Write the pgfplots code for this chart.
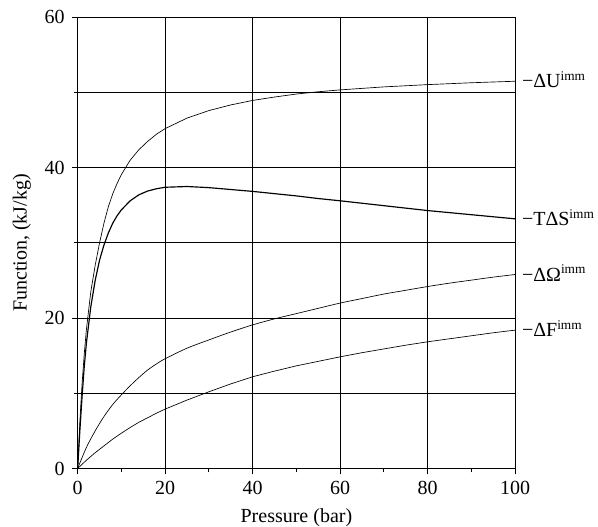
\documentclass[border=0pt]{standalone}
\usepackage{fontspec}
\setmainfont{Liberation Serif}
\usepackage{pgfplots}
\pgfplotsset{compat=1.18}

% 1 px of the reference = 0.6pt
\newcommand{\imm}{\textsuperscript{imm}}

\begin{document}
\fontsize{12}{14}\selectfont
\begin{tikzpicture}
\begin{axis}[
    name=ax,
    scale only axis,
    width=262.5pt, height=270.7pt,
    xmin=0, xmax=100, ymin=0, ymax=60,
    xtick={0,20,...,100}, minor xtick={10,30,...,90},
    ytick={0,20,40,60}, minor ytick={10,30,50},
    xmajorgrids, ymajorgrids, yminorgrids,
    grid style={black, line width=0.6pt},
    minor grid style={black, line width=0.6pt},
    axis line style={black, line width=0.7pt},
    tick style={black, line width=0.6pt},
    tick align=outside, tick pos=left,
    major tick length=3.6pt, minor tick length=2.4pt,
    /pgf/number format/assume math mode=true,
    ticklabel style={font=\fontsize{12}{14}\selectfont},
    label style={font=\fontsize{12}{14}\selectfont},
    xlabel={Pressure (bar)},
    ylabel={Function, (kJ/kg)},
    clip=false,
    cycle list={{black, line width=0.7pt, smooth, no marks}},
]
% -Delta U imm
\addplot coordinates {
(0,0) (0.5,6.2) (1,11.2) (1.5,15.2) (2,18.5) (3,23.5) (4,27) (5,30)
(6,32.6) (7,34.8) (8,36.5) (9,37.9) (10,39.1) (12,41) (14,42.4) (16,43.5)
(18,44.45) (20,45.2) (25,46.6) (30,47.6) (35,48.35) (40,48.95) (45,49.4)
(50,49.8) (55,50.1) (60,50.35) (70,50.75) (80,51.05) (90,51.3) (100,51.5)};
% -T Delta S imm
\addplot coordinates {
(0,0) (0.5,5) (1,9.5) (1.5,13.5) (2,16.7) (3,21.5) (4,25) (5,27.7)
(6,29.7) (7,31.3) (8,32.6) (9,33.6) (10,34.4) (12,35.6) (14,36.4)
(16,36.9) (18,37.2) (20,37.4) (25,37.5) (30,37.35) (35,37.1) (40,36.85)
(45,36.55) (50,36.25) (55,35.9) (60,35.6) (70,34.95) (80,34.3) (90,33.75) (100,33.2)};
% -Delta Omega imm
\addplot coordinates {
(0,0) (2,2.8) (4,5) (6,6.9) (8,8.5) (10,9.8) (12,11) (14,12.1) (16,13.1)
(18,13.9) (20,14.6) (25,16) (30,17.1) (35,18.15) (40,19.1) (45,19.9)
(50,20.6) (55,21.3) (60,22) (65,22.6) (70,23.2) (75,23.7) (80,24.2)
(85,24.65) (90,25.05) (95,25.45) (100,25.8)};
% -Delta F imm
\addplot coordinates {
(0,0) (2,1.1) (4,2.1) (6,3) (8,3.9) (10,4.7) (12,5.45) (14,6.15)
(16,6.75) (18,7.35) (20,7.9) (25,9.1) (30,10.2) (35,11.25) (40,12.2)
(45,12.95) (50,13.65) (55,14.25) (60,14.85) (65,15.4) (70,15.9) (75,16.4)
(80,16.85) (85,17.25) (90,17.65) (95,18.05) (100,18.4)};

\node[anchor=base west, inner sep=0pt, xshift=3.9pt, yshift=-4pt] at (axis cs:100,51.5) {−ΔU\imm};
\node[anchor=base west, inner sep=0pt, xshift=3.9pt, yshift=-4pt] at (axis cs:100,33.2) {−TΔS\imm};
\node[anchor=base west, inner sep=0pt, xshift=3.9pt, yshift=-4pt] at (axis cs:100,25.8) {−ΔΩ\imm};
\node[anchor=base west, inner sep=0pt, xshift=3.9pt, yshift=-4pt] at (axis cs:100,18.4) {−ΔF\imm};
\end{axis}
\pgfresetboundingbox
\path[use as bounding box] ([xshift=-46.6pt,yshift=-35.1pt]ax.south west) rectangle ([xshift=49.7pt,yshift=10.4pt]ax.north east);
\end{tikzpicture}
\end{document}
